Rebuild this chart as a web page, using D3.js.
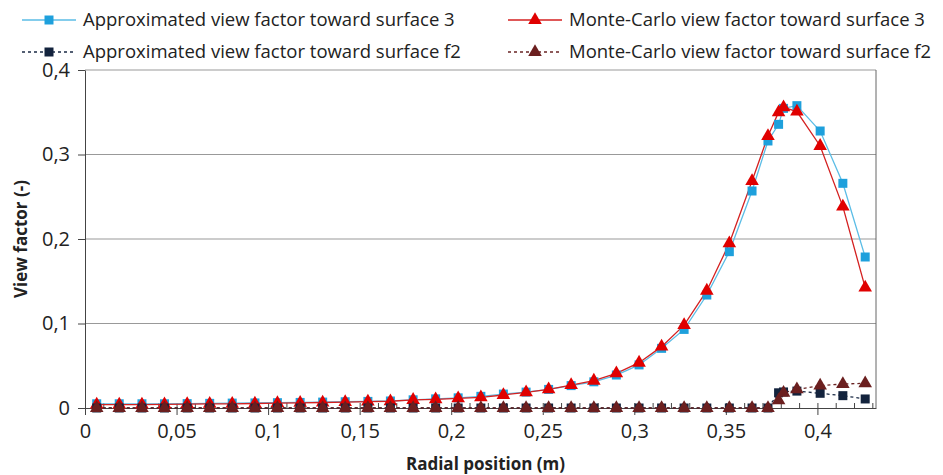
<!DOCTYPE html>
<html>
<head>
<meta charset="utf-8">
<script src="https://cdn.jsdelivr.net/npm/d3@7"></script>
<style>
  body { margin: 0; background: #fff; }
  text { font-family: 'Open Sans', sans-serif; fill: #222; }
</style>
</head>
<body>
<div id="chart"></div>
<script>
// radial positions (m)
const radius = [
  0.0064, 0.0187, 0.0311, 0.0434, 0.0558, 0.0681, 0.0804, 0.0928, 0.1051, 0.1175,
  0.1298, 0.1421, 0.1545, 0.1668, 0.1792, 0.1915, 0.2038, 0.2162, 0.2285, 0.2409,
  0.2532, 0.2655, 0.2779, 0.2902, 0.3026, 0.3149, 0.3272, 0.3396, 0.3519, 0.3643,
  0.3730, 0.3788, 0.3815, 0.3888, 0.4015, 0.4139, 0.4261,
];

const approx3 = [
  0.005, 0.005, 0.005, 0.005, 0.0052, 0.0055, 0.0058, 0.006, 0.0063, 0.0066,
  0.007, 0.0074, 0.0078, 0.0083, 0.0097, 0.0108, 0.012, 0.0138, 0.0165, 0.0188,
  0.022, 0.0265, 0.031, 0.039, 0.051, 0.0706, 0.093, 0.1337, 0.185, 0.2568,
  0.316, 0.3357, 0.3546, 0.3578, 0.3278, 0.2659, 0.1787,
];

const mc3 = [
  0.004, 0.004, 0.004, 0.0042, 0.0045, 0.0048, 0.005, 0.0053, 0.0057, 0.006,
  0.0065, 0.007, 0.0075, 0.008, 0.0095, 0.0103, 0.0114, 0.0126, 0.0154, 0.0185,
  0.0221, 0.0272, 0.0323, 0.041, 0.0536, 0.0726, 0.098, 0.1388, 0.1949, 0.2686,
  0.3219, 0.35, 0.3558, 0.3507, 0.3101, 0.2383, 0.1424,
];

const approxF2 = [
  0, 0, 0, 0, 0, 0, 0, 0, 0, 0,
  0, 0, 0, 0, 0, 0, 0, 0, 0, 0,
  0, 0, 0, 0, 0, 0, 0, 0, 0, 0,
  0, 0.018, 0.019, 0.020, 0.0174, 0.0146, 0.0107,
];

const mcF2 = [
  0, 0, 0, 0, 0, 0, 0, 0, 0, 0,
  0, 0, 0, 0, 0, 0, 0, 0, 0, 0,
  0, 0, 0, 0, 0, 0, 0, 0, 0, 0,
  0, 0.009, 0.018, 0.022, 0.0264, 0.0284, 0.0292,
];

const xTicks = [0, 0.05, 0.1, 0.15, 0.2, 0.25, 0.3, 0.35, 0.4];
const yTicks = [0, 0.1, 0.2, 0.3, 0.4];

const series = [
  { name: 'Approximated view factor toward surface 3', values: approx3, line: '#5bbde6', fill: '#1ea0dc', symbol: d3.symbolSquare, size: 81, dash: null, lx: 22, ly: 20 },
  { name: 'Monte-Carlo view factor toward surface 3', values: mc3, line: '#d42020', fill: '#e00000', symbol: d3.symbolTriangle, size: 80, dash: null, lx: 508, ly: 20 },
  { name: 'Approximated view factor toward surface f2', values: approxF2, line: '#1b2b45', fill: '#13233d', symbol: d3.symbolSquare, size: 81, dash: '3,3', lx: 22, ly: 52 },
  { name: 'Monte-Carlo view factor toward surface f2', values: mcF2, line: '#6a2424', fill: '#6b1f1f', symbol: d3.symbolTriangle, size: 80, dash: '3,3', lx: 508, ly: 52 },
];

const W = 943;
const H = 475;
const plot = { left: 85, right: 876, top: 70, bottom: 408 };

const svg = d3.select('#chart').append('svg')
  .attr('width', W)
  .attr('height', H);

const x = d3.scaleLinear().domain([0, 0.432]).range([plot.left, plot.right]);
const y = d3.scaleLinear().domain([0, 0.4]).range([plot.bottom, plot.top]);

const fmt = d => String(d).replace('.', ',');

// gridlines (0.4 doubles as the top border)
svg.append('g')
  .selectAll('line')
  .data(yTicks.filter(d => d > 0))
  .enter()
  .append('line')
  .attr('x1', plot.left)
  .attr('x2', plot.right)
  .attr('y1', d => y(d))
  .attr('y2', d => y(d))
  .attr('stroke', '#999')
  .attr('stroke-width', 1);

// plot border (right side)
svg.append('line')
  .attr('x1', plot.right).attr('x2', plot.right)
  .attr('y1', plot.top).attr('y2', plot.bottom)
  .attr('stroke', '#666');

// y axis
const yAxis = svg.append('g')
  .attr('transform', `translate(${plot.left},0)`)
  .call(d3.axisLeft(y).tickValues(yTicks).tickFormat(fmt).tickSize(7).tickSizeOuter(0).tickPadding(8));
yAxis.select('.domain').attr('stroke', '#444');
yAxis.selectAll('.tick line').attr('stroke', '#444');
yAxis.selectAll('text').style('font-size', '20px').attr('fill', '#333');

// x axis: minor ticks inside, major outside
const xMinor = svg.append('g')
  .attr('transform', `translate(0,${plot.bottom})`)
  .call(d3.axisTop(x).ticks(43).tickSize(5).tickFormat(''));
xMinor.select('.domain').remove();
xMinor.selectAll('.tick line').attr('stroke', '#444');

const xAxis = svg.append('g')
  .attr('transform', `translate(0,${plot.bottom})`)
  .call(d3.axisBottom(x).tickValues(xTicks).tickFormat(fmt).tickSize(7).tickSizeOuter(0).tickPadding(9));
xAxis.select('.domain').attr('stroke', '#444');
xAxis.selectAll('.tick line').attr('stroke', '#444');
xAxis.selectAll('text').style('font-size', '20px').attr('fill', '#333');

// axis titles
svg.append('text')
  .attr('x', (plot.left + plot.right) / 2 + 5)
  .attr('y', 470)
  .attr('text-anchor', 'middle')
  .style('font-size', '17px')
  .style('font-weight', 'bold')
  .text('Radial position (m)');

svg.append('text')
  .attr('transform', `translate(27,${(plot.top + plot.bottom) / 2}) rotate(-90)`)
  .attr('text-anchor', 'middle')
  .style('font-size', '17px')
  .style('font-weight', 'bold')
  .text('View factor (-)');

// lines and markers
const line = d3.line()
  .x((d, i) => x(radius[i]))
  .y(d => y(d));

series.forEach((s) => {
  svg.append('path')
    .datum(s.values)
    .attr('d', line)
    .attr('fill', 'none')
    .attr('stroke', s.line)
    .attr('stroke-width', 1.3)
    .attr('stroke-dasharray', s.dash);
});

series.forEach((s) => {
  svg.append('g')
    .selectAll('path')
    .data(s.values)
    .enter()
    .append('path')
    .attr('d', d3.symbol().type(s.symbol).size(s.size))
    .attr('transform', (d, i) => `translate(${x(radius[i])},${y(d)})`)
    .attr('fill', s.fill);
});

// legend
const legend = svg.append('g')
  .selectAll('g')
  .data(series)
  .enter()
  .append('g')
  .attr('transform', d => `translate(${d.lx},${d.ly})`);

legend.append('line')
  .attr('x1', 0)
  .attr('x2', 54)
  .attr('stroke', d => d.line)
  .attr('stroke-width', 1.3)
  .attr('stroke-dasharray', d => d.dash);

legend.append('path')
  .attr('d', d => d3.symbol().type(d.symbol).size(d.size)())
  .attr('transform', 'translate(27,0)')
  .attr('fill', d => d.fill);

legend.append('text')
  .attr('x', 61)
  .attr('dy', '0.35em')
  .style('font-size', '18.5px')
  .text(d => d.name);
</script>
</body>
</html>
